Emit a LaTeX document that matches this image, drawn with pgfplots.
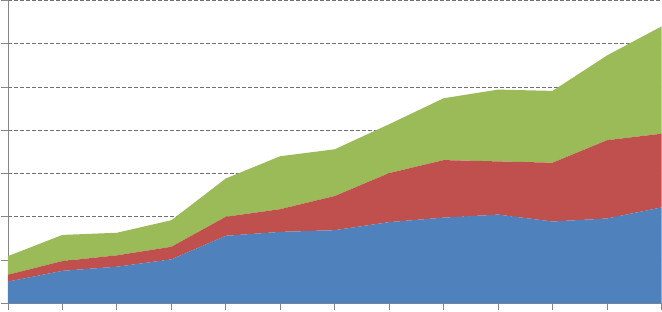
\documentclass[border=0pt]{standalone}
\usepackage{pgfplots}
\pgfplotsset{compat=1.18}
\definecolor{cblue}{HTML}{4F81BD}
\definecolor{cred}{HTML}{C0504D}
\definecolor{cgreen}{HTML}{9BBB59}
\definecolor{cgrid}{HTML}{868686}
\definecolor{cgriddark}{HTML}{707070}
\begin{document}
\begin{tikzpicture}
\begin{axis}[
  scale only axis,
  width=654pt, height=303pt,
  xmin=0, xmax=12, ymin=0, ymax=7,
  axis lines*=left,
  axis line style={cgrid, line width=0.9pt},
  xtick={0,...,12}, ytick={0,...,7},
  xticklabels={}, yticklabels={},
  tick label style={inner sep=0pt, outer sep=0pt},
  tick align=outside,
  major tick length=7pt,
  tick style={cgrid, line width=0.9pt},
  ymajorgrids,
  major grid style={cgriddark, dash pattern=on 4pt off 2pt, line width=0.9pt},
  stack plots=y,
  clip=false,
]
\addplot[fill=cblue, draw=none] coordinates {
(0,0.50) (1,0.75) (2,0.845) (3,1.015) (4,1.56) (5,1.65) (6,1.69) (7,1.876) (8,1.98) (9,2.05) (10,1.89) (11,1.96) (12,2.215)} \closedcycle;
\addplot[fill=cred, draw=none] coordinates {
(0,0.16) (1,0.226) (2,0.263) (3,0.291) (4,0.44) (5,0.526) (6,0.79) (7,1.134) (8,1.33) (9,1.23) (10,1.36) (11,1.81) (12,1.705)} \closedcycle;
\addplot[fill=cgreen, draw=none] coordinates {
(0,0.43) (1,0.604) (2,0.522) (3,0.614) (4,0.885) (5,1.224) (6,1.08) (7,1.13) (8,1.43) (9,1.66) (10,1.66) (11,1.96) (12,2.48)} \closedcycle;
\end{axis}
\end{tikzpicture}
\end{document}
